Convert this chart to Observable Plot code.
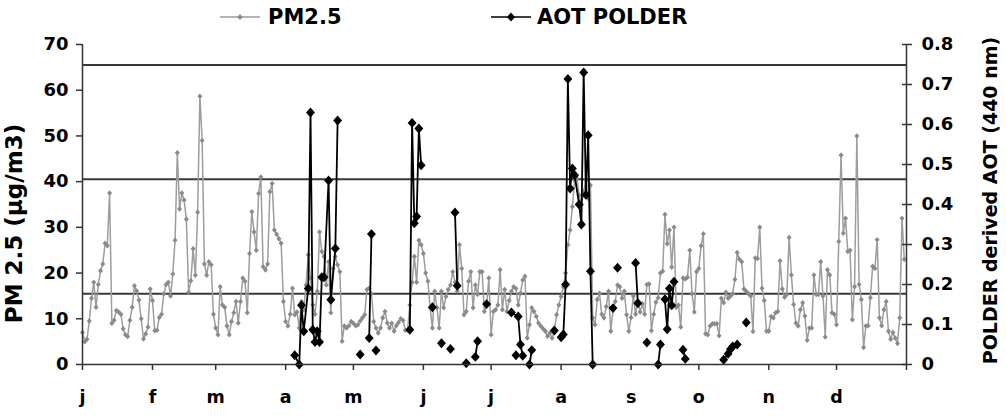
<!DOCTYPE html>
<html>
<head>
<meta charset="utf-8">
<script src="https://cdn.jsdelivr.net/npm/d3@7"></script>
<script src="https://cdn.jsdelivr.net/npm/@observablehq/plot@0.6"></script>
<style>
  html, body { margin: 0; padding: 0; background: #fff; }
  #chart { width: 1006px; height: 420px; position: relative; font-family: "DejaVu Sans", sans-serif; font-weight: bold; color: #000; }
  #legend { position: relative; height: 30px; width: 1006px; }
  .lg-sw { position: absolute; top: 2px; }
  .lg-tx { position: absolute; top: 2px; height: 30px; line-height: 30px; font-size: 21px; white-space: nowrap; }
  #plot svg { display: block; }
</style>
</head>
<body>
<div id="chart">
  <div id="legend"></div>
  <div id="plot"></div>
</div>
<script>
// ---------------- data ----------------
const monthLabels = ["j", "f", "m", "a", "m", "j", "j", "a", "s", "o", "n", "d"];
const monthStarts = [0, 31, 59, 90, 120, 151, 181, 212, 243, 273, 304, 334, 365];

// daily PM2.5 (µg/m3), day 0 = 1 January
const pmJan = [7,5,5.5,9.5,14.5,18,12.5,17.5,20.5,22,26.5,26,37.5,9,9.7,11.8,11.5,11,7.8,6.5,6.1,9.7,12.5,17.2,16.1,14.1,10,5.6,6.7,8.2,16.5];
const pmFeb = [14,7.4,7.5,10.3,11,15.4,17.5,18,15,19.8,27.2,46.3,34,37.5,36,31.8,15.8,18.3,25.3,19.5,33.3,58.7,49,22,19.5,22.5,21.8,11];
const pmMar = [8,6.5,17,13,12.5,8.4,6.5,9.4,11.3,13.8,9.1,13.8,18.9,18.2,11.3,24.3,33.4,29,25,37.4,41,21.4,20.7,22,37.8,39.6,29.4,28.5,27.5,26.5,13.8];
const pmApr = [9.4,8.4,11,16.7,10.9,11.5,8,13.8,12,17.4,24,18.9,13,11,16,29,24.7,23.6,17.4,22.5,11.3,21,23.6,21.8,20.3,5.1,8.4,8,8.5,9.4];
const pmMay = [9,8.5,8.7,9.5,10.2,10.9,16.4,16.7,15.5,9.4,8,6.9,8,10.2,11.6,9.1,8,9,7.3,8.5,9.2,10,9.6,7.5,7.5,13,18,23.6,18,27.2,26.2];
const pmJun = [24.3,20,18.2,12.4,8,16,12.4,8,16,12.4,14.9,16.4,17.4,20.3,18,16,26.2,21,10.9,11.6,18.2,20.3,12.4,17.4,15.3,20.3,20.3,11.6,13,18.9];
const pmJul = [6.5,11.6,12,13,20.7,12,16.4,11.6,14,16,17,16.6,13,15.6,18.5,19.3,5.8,8.7,12.4,11.6,10.5,9.1,8.4,7.8,7.3,6.2,6.9,5.8,7.3,10.9,13];
const pmAug = [14.9,17,20,26.2,29.4,34.5,40.3,40.7,37,35,37.8,40.3,36.3,39.2,10.2,8.7,14.2,15.6,11,10.2,12.7,16,7.3,12,13.8,17.4,17,14.5,16,10.9,7.3];
const pmSep = [10.3,15,11,13.9,11.5,13.3,11,17.5,17.6,7.4,11,13.6,14.6,20,20.4,32.8,26.4,29.4,21.3,30,12.5,13,8.2,18.9,18.7,19.1,25,15.5,11.5,20.3];
const pmOct = [21,26,28.6,6.7,6.5,8.4,8.9,8.9,8.9,6.3,14.5,13.5,15.8,14.5,15,15.5,18.6,24.5,23,22.5,16.5,16,15.5,15,7.2,23.3,23.2,30,16.7,14,7.3];
const pmNov = [7.3,10.5,10.2,11.3,11.6,22.7,16.5,14.7,15.3,27.8,19.6,13.1,9.1,8.4,12,13.5,10.6,5.3,8,8,19.6,15.3,15.3,22.5,15,6,20.7,19.6,11.3,11];
const pmDec = [8.7,26.9,45.8,28.7,32,24.7,25,9.8,17,50,17.5,14.2,3.7,8.4,8.5,14.6,21.5,21,27.3,10.2,8.5,12,13.8,7.3,5.5,7,5.8,4.6,10.2,32,23];

// POLDER AOT (440 nm): day of year, value, and run (consecutive connected points)
const aotDay = [94,96,97,98,100,101,102,103,104,105,106,107,109,110,112,113,
  123, 127,128, 130, 145,146,147,148,149,150, 155, 159, 163, 165,166, 170, 174,175, 179,
  190,193,194,195, 192, 198,199, 209,
  212,213,214,215,216,217,218,220,221,222,223,224,225,226,
  235, 237, 245,246, 250, 255,256, 258,259,260,261,262, 266,267,
  284,286,287,288,290, 294];
const aotValue = [0.023,0.0,0.148,0.083,0.19,0.63,0.087,0.056,0.083,0.056,0.218,0.218,0.46,0.162,0.29,0.61,
  0.025, 0.066,0.326, 0.035, 0.087,0.604,0.353,0.37,0.59,0.498, 0.143, 0.053, 0.039, 0.38,0.197, 0.003, 0.019,0.058, 0.151,
  0.13,0.12,0.05,0.022, 0.023, 0.0,0.036, 0.085,
  0.068,0.075,0.2,0.714,0.44,0.49,0.473,0.4,0.35,0.73,0.424,0.573,0.233,0.0,
  0.141, 0.242, 0.254,0.153, 0.055, 0.0,0.05, 0.163,0.088,0.19,0.148,0.207, 0.037,0.014,
  0.012,0.027,0.038,0.045,0.05, 0.105];
const aotRun = [1,1,1,1,1,1,1,1,1,1,1,1,1,1,1,1,
  2, 3,3, 4, 5,5,5,5,5,5, 6, 7, 8, 9,9, 10, 11,11, 12,
  13,13,13,13, 14, 15,15, 16,
  17,17,17,17,17,17,17,17,17,17,17,17,17,17,
  18, 19, 20,20, 21, 22,22, 23,23,23,23,23, 24,24,
  25,25,25,25,25, 26];

const pmTicks = [0, 10, 20, 30, 40, 50, 60, 70];
const aotTicks = [0, 0.1, 0.2, 0.3, 0.4, 0.5, 0.6, 0.7, 0.8];
const thresholdsPM = [15.5, 40.5, 65.5];

const seriesNames = ["PM2.5", "AOT POLDER"];
const leftTitle = "PM 2.5 (µg/m3)";
const rightTitle = "POLDER derived AOT (440 nm)";

// ---------------- build ----------------
const pm25 = [].concat(pmJan, pmFeb, pmMar, pmApr, pmMay, pmJun, pmJul, pmAug, pmSep, pmOct, pmNov, pmDec);
const pmRows = pm25.map((v, i) => ({day: i, v}));
const pmMax = 70, aotMax = 0.8;
const k = pmMax / aotMax; // maps the right (AOT) axis onto the left (PM) axis
const aotRows = aotDay.map((d, i) => ({day: d, v: aotValue[i], run: aotRun[i]}));

const pmLine = "#9d9d9d", pmDot = "#8a8a8a", aotColor = "#000";

const diamond = {
  draw(ctx, size) {
    const h = Math.sqrt(size / Math.PI) * 1.15, w = h * 0.9;
    ctx.moveTo(0, -h); ctx.lineTo(w, 0); ctx.lineTo(0, h); ctx.lineTo(-w, 0); ctx.closePath();
  }
};

// legend (HTML, above the svg)
const legend = document.getElementById("legend");
const legendCfg = [
  {name: seriesNames[0], line: pmLine, dot: pmDot, sw: 218, tx: 268, s: 3},
  {name: seriesNames[1], line: aotColor, dot: aotColor, sw: 489, tx: 537, s: 4.5}
];
for (const c of legendCfg) {
  const sw = document.createElement("div");
  sw.className = "lg-sw";
  sw.style.left = c.sw + "px";
  sw.innerHTML = `<svg width="44" height="30"><line x1="2" x2="42" y1="15" y2="15" stroke="${c.line}" stroke-width="1.6"/>` +
    `<path d="M22,${15 - c.s} L${22 + c.s * 0.9},15 L22,${15 + c.s} L${22 - c.s * 0.9},15Z" fill="${c.dot}"/></svg>`;
  legend.appendChild(sw);
  const tx = document.createElement("div");
  tx.className = "lg-tx";
  tx.style.left = c.tx + "px";
  tx.textContent = c.name;
  legend.appendChild(tx);
}

const chart = Plot.plot({
  width: 1006,
  height: 390,
  marginLeft: 82,
  marginRight: 100,
  marginTop: 14,
  marginBottom: 56,
  x: {domain: [0, 365]},
  y: {domain: [0, pmMax]},
  style: {fontFamily: "DejaVu Sans, sans-serif", fontWeight: "bold", fontSize: "18px", color: "#000", background: "#fff"},
  marks: [
    Plot.ruleY(thresholdsPM, {stroke: "#383838", strokeWidth: 2}),
    Plot.line(pmRows, {x: "day", y: "v", stroke: pmLine, strokeWidth: 1.5}),
    Plot.dot(pmRows, {x: "day", y: "v", symbol: diamond, r: 2.4, fill: pmDot, stroke: "none"}),
    Plot.line(aotRows, {x: "day", y: d => d.v * k, z: "run", stroke: aotColor, strokeWidth: 1.8}),
    Plot.dot(aotRows, {x: "day", y: d => d.v * k, symbol: diamond, r: 4.3, fill: aotColor, stroke: "none"}),
    Plot.ruleX([0, 365], {stroke: "#333", strokeWidth: 1.5}),
    Plot.ruleY([0], {stroke: "#333", strokeWidth: 1.5}),
    Plot.axisX(monthStarts, {
      tickSize: 6, tickPadding: 20, stroke: "#333", strokeWidth: 1.5, label: null, fontSize: 17.5,
      tickFormat: d => monthLabels[monthStarts.indexOf(d)] ?? ""
    }),
    Plot.axisY(pmTicks, {anchor: "left", tickSize: 6, tickPadding: 8, stroke: "#333", strokeWidth: 1.5, label: null}),
    Plot.axisY(aotTicks.map(v => v * k), {anchor: "right", tickSize: 10, dx: -5, stroke: "#333", strokeWidth: 1.5, tickFormat: () => "", label: null}),
    Plot.axisY(aotTicks.map(v => v * k), {anchor: "right", tickSize: 0, tickPadding: 15, label: null,
      tickFormat: d => { const a = Math.round(d / k * 10) / 10; return a === 0 ? "0" : a.toFixed(1); }}),
    Plot.text([leftTitle], {frameAnchor: "left", rotate: -90, textAnchor: "middle", lineAnchor: "middle", dx: -68, dy: 19, fontSize: 23, fontWeight: "bold"}),
    Plot.text([rightTitle], {frameAnchor: "right", rotate: -90, textAnchor: "middle", lineAnchor: "middle", dx: 84, dy: -4, fontSize: 19, fontWeight: "bold"})
  ]
});
document.getElementById("plot").appendChild(chart);
</script>
</body>
</html>
